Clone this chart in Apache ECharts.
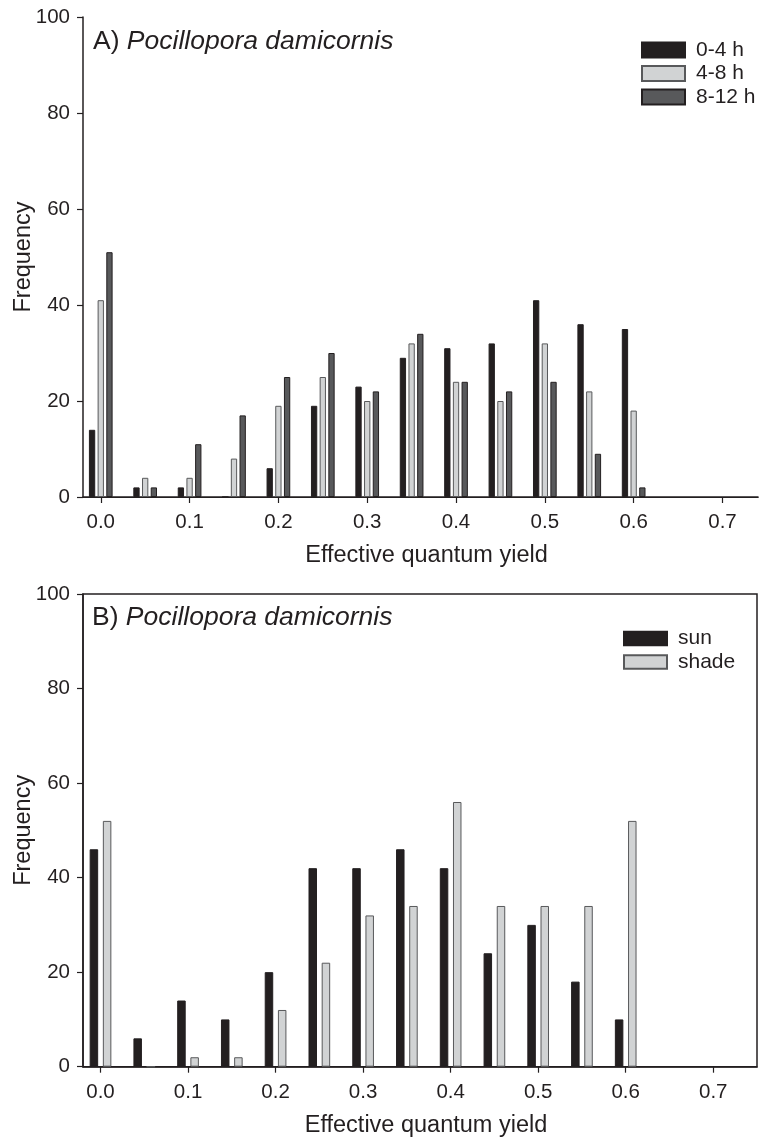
<!DOCTYPE html>
<html>
<head>
<meta charset="utf-8">
<script src="https://cdn.jsdelivr.net/npm/echarts@6/dist/echarts.min.js"></script>
<style>
  html, body { margin: 0; padding: 0; background: #fff; }
  #chart { width: 759px; height: 1138px; }
</style>
</head>
<body>
<div id="chart"></div>
<script>
// bin starts (effective quantum yield)
var bins = [0, 0.05, 0.1, 0.15, 0.2, 0.25, 0.3, 0.35, 0.4, 0.45, 0.5, 0.55, 0.6];
// panel A: time of day
var h0_4 = [14, 2, 2, 0, 6, 19, 23, 29, 31, 32, 41, 36, 35];
var h4_8 = [41, 4, 4, 8, 19, 25, 20, 32, 24, 20, 32, 22, 18];
var h8_12 = [51, 2, 11, 17, 25, 30, 22, 34, 24, 22, 24, 9, 2];
// panel B: sun / shade
var sun = [46, 6, 14, 10, 20, 42, 42, 46, 42, 24, 30, 18, 10];
var shade = [52, 0, 2, 2, 12, 22, 32, 34, 56, 34, 34, 34, 52];
// ticks
var xTicks = [0, 0.1, 0.2, 0.3, 0.4, 0.5, 0.6, 0.7];
var yTicks = [0, 20, 40, 60, 80, 100];

var FONT = "'Liberation Sans', Arial, Helvetica, sans-serif";
var INK = "#231f20";

function pairs(vals) {
  return bins.map(function (b, i) { return [b, vals[i]]; });
}

function xAxisFor(grid, max) {
  return {
    type: "value",
    gridIndex: grid,
    min: -0.02,
    max: max,
    name: "Effective quantum yield",
    nameLocation: "middle",
    nameGap: 47,
    nameTextStyle: { color: INK, fontSize: 23.5, fontFamily: FONT, padding: [0, 0, 0, 12] },
    axisLine: { show: true, onZero: false, lineStyle: { color: INK, width: 1.5 } },
    axisTick: { show: true, inside: false, length: 6, customValues: xTicks, lineStyle: { color: INK, width: 1.2 } },
    axisLabel: {
      show: true, margin: 15, customValues: xTicks, color: INK, fontSize: 20.5, fontFamily: FONT,
      formatter: function (v) { return v.toFixed(1); }
    },
    splitLine: { show: false }
  };
}

function yAxisFor(grid) {
  return {
    type: "value",
    gridIndex: grid,
    min: 0,
    max: 100,
    interval: 20,
    name: "Frequency",
    nameLocation: "middle",
    nameGap: 47,
    nameMoveOverlap: false,
    nameTextStyle: { color: INK, fontSize: 23.5, fontFamily: FONT },
    axisLine: { show: true, onZero: false, lineStyle: { color: INK, width: 1.5 } },
    axisTick: { show: true, inside: false, length: 6, lineStyle: { color: INK, width: 1.2 } },
    axisLabel: { show: true, margin: 13, color: INK, fontSize: 20.5, fontFamily: FONT,
      customValues: yTicks },
    splitLine: { show: false }
  };
}

function barSeries(name, vals, xi, yi, fill, border, w, gap) {
  return {
    name: name,
    type: "bar",
    xAxisIndex: xi,
    yAxisIndex: yi,
    data: pairs(vals),
    barWidth: w,
    barGap: gap,
    itemStyle: { color: fill, borderColor: border, borderWidth: 1 },
    animation: false
  };
}

var titleRich = {
  n: { fontSize: 26.5, color: INK, fontFamily: FONT, fontWeight: "normal" },
  i: { fontSize: 26.5, color: INK, fontFamily: FONT, fontWeight: "normal", fontStyle: "italic" }
};

var chart = echarts.init(document.getElementById("chart"));

chart.setOption({
  backgroundColor: "#fff",
  animation: false,
  textStyle: { fontFamily: FONT },
  title: [
    {
      text: "{n|A) }{i|Pocillopora damicornis}",
      left: 93, top: 28, padding: 0,
      textStyle: { fontWeight: "normal", rich: titleRich }
    },
    {
      text: "{n|B) }{i|Pocillopora damicornis}",
      left: 92, top: 604, padding: 0,
      textStyle: { fontWeight: "normal", rich: titleRich }
    }
  ],
  legend: [
    {
      data: ["0-4 h", "4-8 h", "8-12 h"],
      orient: "vertical",
      left: 641, top: 39.5, padding: 0,
      itemWidth: 43, itemHeight: 15, itemGap: 2.5,
      icon: "rect",
      textStyle: { color: INK, fontSize: 21, lineHeight: 21, fontFamily: FONT, padding: [0, 0, 0, 6] }
    },
    {
      data: ["sun", "shade"],
      orient: "vertical",
      left: 623, top: 628, padding: 0,
      itemWidth: 43, itemHeight: 13.5, itemGap: 2.4,
      icon: "rect",
      textStyle: { color: INK, fontSize: 21, lineHeight: 21, fontFamily: FONT, padding: [0, 0, 0, 6] }
    }
  ],
  grid: [
    { left: 83, top: 17, width: 675, height: 480, containLabel: false, outerBoundsMode: "none" },
    { left: 83, top: 594, width: 674, height: 472.7, containLabel: false, outerBoundsMode: "none",
      show: true, borderColor: INK, borderWidth: 1.5, backgroundColor: "transparent" }
  ],
  xAxis: [
    xAxisFor(0, 0.74),
    xAxisFor(1, 0.75),
    // top frame line of panel A
    {
      type: "value", gridIndex: 0, position: "top", min: -0.02, max: 0.74,
      axisLine: { show: true, lineStyle: { color: INK, width: 1.2 } },
      axisTick: { show: false }, axisLabel: { show: false }, splitLine: { show: false }
    }
  ],
  yAxis: [yAxisFor(0), yAxisFor(1)],
  series: [
    barSeries("0-4 h", h0_4, 0, 0, "#231f20", "#231f20", 6.3, "38%"),
    barSeries("4-8 h", h4_8, 0, 0, "#d1d3d4", "#58595b", 6.3, "38%"),
    barSeries("8-12 h", h8_12, 0, 0, "#58595b", "#231f20", 6.3, "38%"),
    barSeries("sun", sun, 1, 1, "#231f20", "#231f20", 8.5, "55%"),
    barSeries("shade", shade, 1, 1, "#d1d3d4", "#58595b", 8.5, "55%")
  ]
});
</script>
</body>
</html>
